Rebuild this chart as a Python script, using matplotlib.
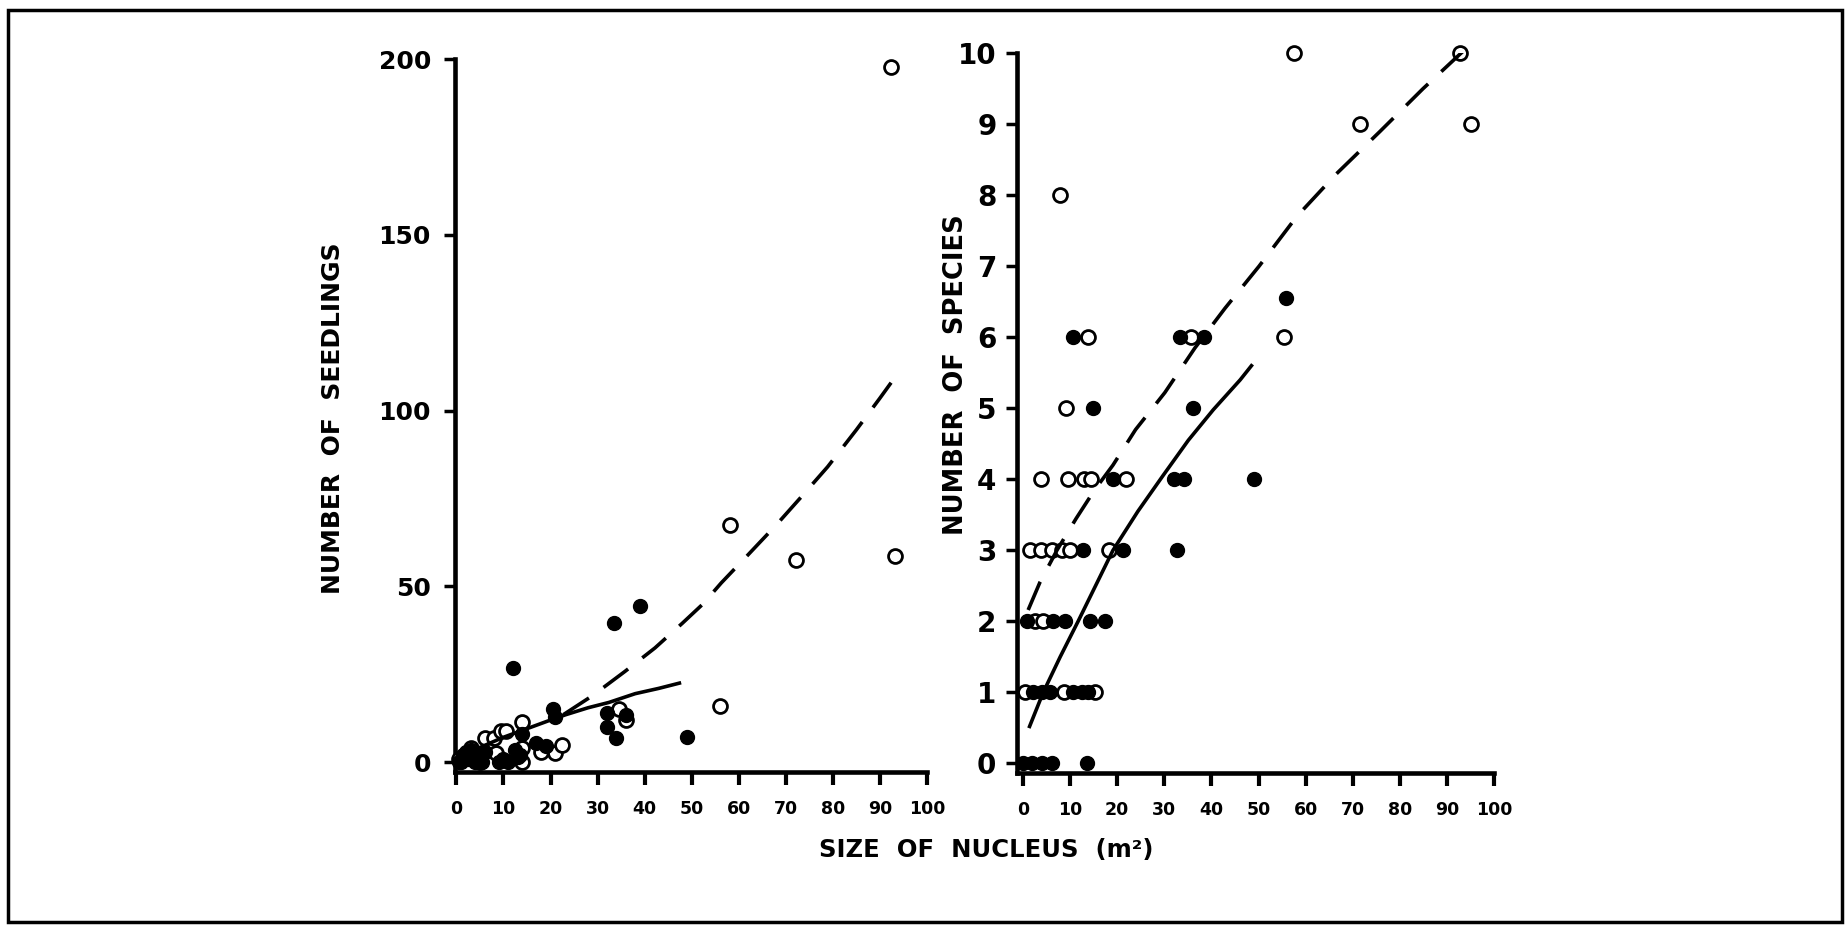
import matplotlib.pyplot as plt
from matplotlib.patches import Rectangle

plt.rcParams['font.family'] = ['DejaVu Sans']
plt.rcParams['font.weight'] = 'bold'

# --- left panel: number of seedlings vs size of nucleus (m2)
seed_open_x = [0.5, 2, 3, 5, 6, 8, 8.5, 9.5, 10.5, 14, 14, 14, 18, 21, 22.5, 34.5, 36, 56, 58.2, 72.2, 93.3, 92.3]
seed_open_y = [1, 2, 4, 0, 7, 7, 2.5, 9, 9, 11.5, 4, 0, 3, 2.5, 5, 15, 12, 16, 67.4, 57.4, 58.7, 197.8]
seed_fill_x = [0.5, 1, 1.5, 2, 2.5, 3, 4, 4.5, 5, 5.5, 6, 9, 10, 11, 12, 12.5, 13, 13.5, 14,
               17, 19, 20.5, 21, 32, 32, 34, 36, 33.5, 39, 49]
seed_fill_y = [0, 0, 2, 3, 1, 3.5, 0, 2, 1, 0, 3, 0, 1, 0, 26.7, 3.5, 1.5, 2, 8,
               5.5, 4.5, 15, 13, 14, 10, 7, 13.5, 39.5, 44.5, 7.3]

# fitted curves
seed_solid_x = [2, 5, 10, 14.3, 20, 23.2, 28, 32.4, 38, 43, 47.4]
seed_solid_y = [2, 4.2, 7.1, 9.2, 12, 13.5, 15.5, 17, 19.5, 21, 22.5]
seed_dash_x = [22.7, 29, 35.8, 42.2, 48, 52.4, 56.3, 62, 68, 73, 78.9, 85, 90, 93.3]
seed_dash_y = [13.5, 19, 25.8, 32.5, 39.5, 45, 51, 59, 67.5, 75, 84, 94.5, 103.5, 109.6]

# --- right panel: number of species vs size of nucleus (m2)
spec_open_x = [0.4, 8.7, 15.3, 2.5, 4.3, 1.5, 3.8, 6.1, 8.2, 10.0, 18.3,
               3.8, 9.6, 13.0, 14.5, 21.8, 9.1, 13.7, 35.7, 55.5, 7.9,
               71.5, 95.1, 57.5, 92.8]
spec_open_y = [1, 1, 1, 2, 2, 3, 3, 3, 3, 3, 3,
               4, 4, 4, 4, 4, 5, 6, 6, 6, 8,
               9, 9, 10, 10]
spec_fill_x = [0.1, 1.9, 4.0, 6.1, 13.6, 2.1, 4.0, 5.7, 10.7, 12.5, 13.9,
               0.8, 6.3, 8.9, 14.2, 17.4, 12.7, 21.3, 32.6, 19.2, 32.0, 34.2, 49.0,
               14.9, 36.0, 10.6, 33.3, 38.4, 55.9]
spec_fill_y = [0, 0, 0, 0, 0, 1, 1, 1, 1, 1, 1,
               2, 2, 2, 2, 2, 3, 3, 3, 4, 4, 4, 4,
               5, 5, 6, 6, 6, 6.55]

spec_solid_x = [1.4, 4.3, 7.9, 11.7, 15.4, 19.1, 24.4, 29.7, 35.1, 40.4, 46.1, 48.5]
spec_solid_y = [0.52, 1.0, 1.5, 2.0, 2.5, 3.0, 3.55, 4.05, 4.55, 4.98, 5.4, 5.6]
spec_dash_x = [1.1, 3.6, 7.2, 11.3, 15.2, 19.1, 23.9, 30.1, 36.5, 42.9, 50.1, 58.1, 66.5, 75.8, 84.9, 94.9]
spec_dash_y = [2.16, 2.55, 3.0, 3.45, 3.85, 4.2, 4.7, 5.22, 5.85, 6.41, 7.0, 7.7, 8.3, 8.9, 9.5, 10.12]

x_ticks = list(range(0, 101, 10))
seed_ticks = [0, 50, 100, 150, 200]
spec_ticks = list(range(0, 11))

fig = plt.figure(figsize=(18.47, 9.25), dpi=100)
ax1 = fig.add_axes([0.2461, 0.1657, 0.2557, 0.7705])
ax2 = fig.add_axes([0.5508, 0.1640, 0.2581, 0.7784])

ms = 10


def style(ax, xlim, ylim, yticks, ysize, ypad):
    ax.set_xlim(*xlim)
    ax.set_ylim(*ylim)
    for s in ['top', 'right']:
        ax.spines[s].set_visible(False)
    for s in ['left', 'bottom']:
        ax.spines[s].set_linewidth(3.3)
    ax.spines['bottom'].set_bounds(xlim[0], 100)
    ax.spines['left'].set_bounds(ylim[0], ylim[1])
    ax.set_xticks(x_ticks)
    ax.set_yticks(yticks)
    ax.tick_params(axis='x', length=9, width=3, pad=11, labelsize=12.5)
    ax.tick_params(axis='y', length=8, width=2.5, pad=ypad, labelsize=ysize)
    for lab in ax.get_xticklabels() + ax.get_yticklabels():
        lab.set_fontweight('bold')
    ax.patch.set_visible(False)


# left panel
ax1.plot(seed_open_x, seed_open_y, 'o', ms=ms, mfc='white', mec='black', mew=2, clip_on=False, zorder=3)
ax1.plot(seed_fill_x, seed_fill_y, 'o', ms=ms, color='black', clip_on=False, zorder=4)
ax1.plot(seed_solid_x, seed_solid_y, '-', color='black', lw=2.6, zorder=5)
ax1.plot(seed_dash_x, seed_dash_y, '--', color='black', lw=2.6, dashes=(8.5, 5), zorder=5)
style(ax1, (-0.4, 100), (-2.7, 200), seed_ticks, 18, 9)

# right panel
ax2.plot(spec_open_x, spec_open_y, 'o', ms=ms, mfc='white', mec='black', mew=2, clip_on=False, zorder=3)
ax2.plot(spec_fill_x, spec_fill_y, 'o', ms=ms, color='black', clip_on=False, zorder=4)
ax2.plot(spec_solid_x, spec_solid_y, '-', color='black', lw=2.6, zorder=5)
ax2.plot(spec_dash_x, spec_dash_y, '--', color='black', lw=2.6, dashes=(8.5, 5), zorder=5)
style(ax2, (-1.2, 100), (-0.14, 10), spec_ticks, 20, 7)

fig.text(333 / 1847, 1 - 418 / 925, 'NUMBER  OF  SEEDLINGS', rotation=90, ha='center', va='center',
         fontsize=18, fontweight='bold')
fig.text(956 / 1847, 1 - 375 / 925, 'NUMBER  OF  SPECIES', rotation=90, ha='center', va='center',
         fontsize=18.5, fontweight='bold')
fig.text(986 / 1847, 1 - 850 / 925, 'SIZE  OF  NUCLEUS  (m\u00b2)', ha='center', va='center',
         fontsize=17.5, fontweight='bold')

# outer frame of the figure
fig.patches.append(Rectangle((8 / 1847, 3 / 925), 1834 / 1847, 912 / 925, transform=fig.transFigure,
                             fill=False, lw=2.5, edgecolor='black'))

fig.savefig('out.png', dpi=100)
